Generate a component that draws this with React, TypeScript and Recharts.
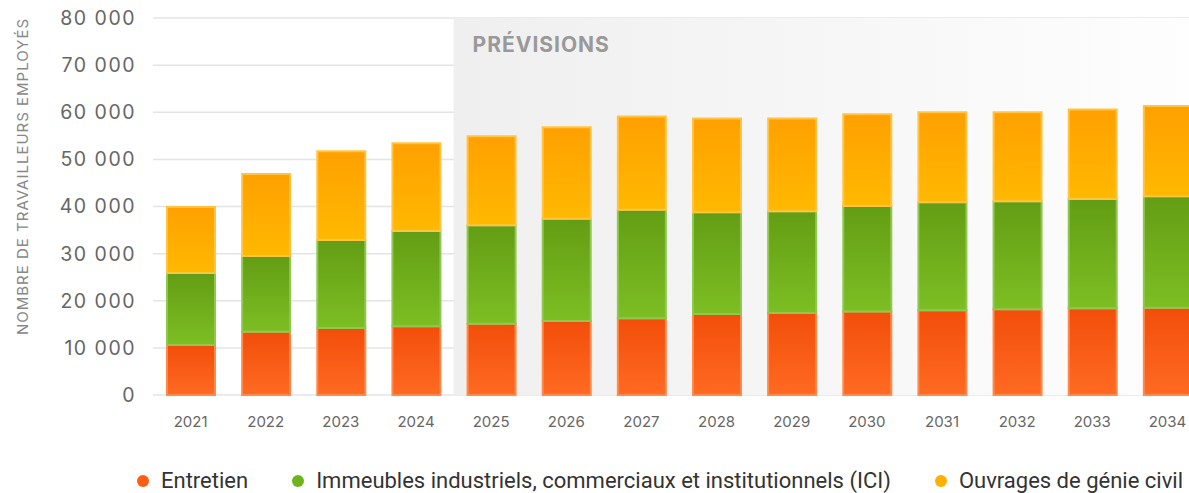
import { BarChart, Bar, XAxis, YAxis, CartesianGrid, Legend, ReferenceArea } from 'recharts'

const years = ['2021', '2022', '2023', '2024', '2025', '2026', '2027', '2028', '2029', '2030', '2031', '2032', '2033', '2034']
const entretien = [10600, 13400, 14200, 14600, 15100, 15700, 16300, 17200, 17400, 17700, 18000, 18200, 18400, 18500]
const ici = [15300, 16100, 18700, 20200, 20900, 21700, 23000, 21600, 21600, 22400, 22900, 22900, 23200, 23700]
const genieCivil = [14000, 17400, 18800, 18600, 18900, 19400, 19800, 19900, 19700, 19500, 19100, 18900, 19000, 19100]
const yTicks = [0, 10000, 20000, 30000, 40000, 50000, 60000, 70000, 80000]

const series = [
  { key: 'entretien', name: 'Entretien', dot: '#ff5f15', grad: 'gOrange', stroke: '#ff8a4c' },
  { key: 'ici', name: 'Immeubles industriels, commerciaux et institutionnels (ICI)', dot: '#6fb31c', grad: 'gGreen', stroke: '#8fc850' },
  { key: 'genieCivil', name: 'Ouvrages de génie civil', dot: '#ffb000', grad: 'gYellow', stroke: '#ffc445' },
]

const data = years.map((y, i) => ({ year: y, entretien: entretien[i], ici: ici[i], genieCivil: genieCivil[i] }))

const fmt = (v: number) => (v === 0 ? '0' : `${Math.floor(v / 1000)} ${String(v % 1000).padStart(3, '0')}`)

const renderLegend = () => (
  <div style={{ display: 'flex', alignItems: 'center', marginLeft: 137, fontFamily: 'Roboto', fontSize: 22, color: '#333', whiteSpace: 'nowrap' }}>
    {series.map((s) => (
      <div key={s.key} style={{ display: 'flex', alignItems: 'center', marginRight: 44, flexShrink: 0 }}>
        <span style={{ width: 12, height: 12, borderRadius: 6, background: s.dot, display: 'inline-block', marginRight: 12 }} />
        <span>{s.name}</span>
      </div>
    ))}
  </div>
)

// y-axis title, rotated and centred a bit above the plot middle
const YTitle = (props: any) => {
  const { viewBox } = props
  const cy = viewBox.y + viewBox.height / 2 - 30
  return (
    <text
      x={22}
      y={cy}
      transform={`rotate(-90, 22, ${cy})`}
      textAnchor="middle"
      dominantBaseline="central"
      fill="#888"
      fontSize={15}
      fontFamily="Inter"
      letterSpacing={1}
    >
      NOMBRE DE TRAVAILLEURS EMPLOYÉS
    </text>
  )
}

export default function App() {
  return (
    <div style={{ position: 'absolute', left: 0, top: 0, width: 1205, height: 493, background: '#fff' }}>
      <BarChart width={1205} height={493} data={data} margin={{ top: 18, right: 0, left: 0, bottom: 0 }}>
        <defs>
          <linearGradient id="gOrange" x1="0" y1="0" x2="0" y2="1">
            <stop offset="0%" stopColor="#f24e0a" />
            <stop offset="100%" stopColor="#ff6a22" />
          </linearGradient>
          <linearGradient id="gGreen" x1="0" y1="0" x2="0" y2="1">
            <stop offset="0%" stopColor="#639d14" />
            <stop offset="100%" stopColor="#7dbe23" />
          </linearGradient>
          <linearGradient id="gYellow" x1="0" y1="0" x2="0" y2="1">
            <stop offset="0%" stopColor="#ffa000" />
            <stop offset="100%" stopColor="#ffb900" />
          </linearGradient>
          <linearGradient id="gForecast" x1="0" y1="0" x2="1" y2="0">
            <stop offset="0%" stopColor="#efefef" />
            <stop offset="100%" stopColor="#fefefe" />
          </linearGradient>
        </defs>
        <ReferenceArea
          x1="2025"
          x2="2034"
          y1={0}
          y2={80000}
          fill="url(#gForecast)"
          fillOpacity={1}
          stroke="none"
          label={{ value: 'PRÉVISIONS', position: 'insideTopLeft', offset: 19, fill: '#999', fontSize: 21, fontWeight: 700, fontFamily: 'Inter', letterSpacing: 1 }}
        />
        <CartesianGrid vertical={false} stroke="#e4e4e4" strokeWidth={1.5} />
        <XAxis
          dataKey="year"
          axisLine={false}
          tickLine={false}
          tickSize={0}
          tickMargin={21}
          height={73}
          tick={{ fill: '#666', fontSize: 15, fontFamily: 'Inter' }}
        />
        <YAxis
          domain={[0, 80000]}
          ticks={yTicks}
          tickFormatter={fmt}
          axisLine={false}
          tickLine={false}
          tickSize={0}
          tickMargin={17}
          width={153}
          tick={{ fill: '#666', fontSize: 19.5, fontFamily: 'Inter', letterSpacing: 1.5 }}
          label={<YTitle />}
        />
        <Legend verticalAlign="bottom" content={renderLegend} wrapperStyle={{ width: 1205, left: 0 }} />
        {series.map((s) => (
          <Bar
            key={s.key}
            dataKey={s.key}
            name={s.name}
            stackId="a"
            barSize={48}
            fill={`url(#${s.grad})`}
            stroke={s.stroke}
            strokeWidth={2}
            isAnimationActive={false}
          />
        ))}
      </BarChart>
    </div>
  )
}
